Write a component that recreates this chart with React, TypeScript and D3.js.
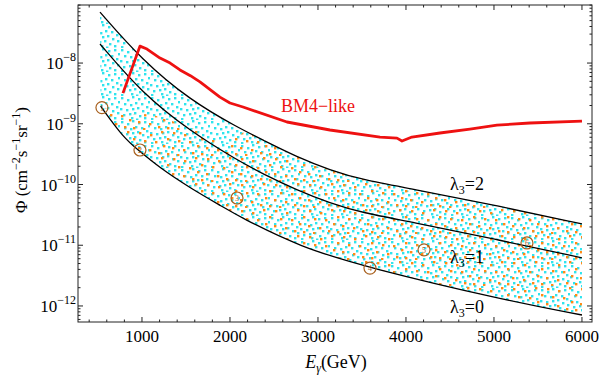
import * as d3 from 'd3';
import React from 'react';

const W = 602;
const H = 382;

// flux curves (E in GeV, Phi in cm^-2 s^-1 sr^-1)
const lam2E = [523, 1000, 1545, 2080, 2375, 2761, 3136, 3511, 4045, 5000, 6000];
const lam2Phi = [6.9e-8, 1.12e-8, 2.46e-9, 8.8e-10, 5.4e-10, 2.84e-10, 1.73e-10, 1.19e-10, 8.6e-11, 4.6e-11, 2.24e-11];

const lam1E = [523, 1000, 1545, 2080, 2375, 2761, 3136, 3511, 4045, 5000, 6000];
const lam1Phi = [2.06e-8, 3.2e-9, 7.6e-10, 2.53e-10, 1.49e-10, 8.1e-11, 4.95e-11, 3.4e-11, 2.45e-11, 1.27e-11, 6.2e-12];

const lam0E = [530, 784, 955, 1205, 1545, 1920, 2114, 2795, 3591, 5068, 6000];
const lam0Phi = [1.95e-9, 6.05e-10, 3.7e-10, 1.87e-10, 8.8e-11, 4.27e-11, 2.92e-11, 9.35e-12, 4.2e-12, 1.3e-12, 7.1e-13];

// upper edge of the orange points
const orangeE = [500, 750, 1091, 1545, 1943, 2227, 2568, 6200];
const orangePhi = [2.1e-9, 1.39e-9, 1.45e-9, 8.9e-10, 4.47e-10, 8.5e-10, 5.3e-9, 5e-9];

// BM4-like sensitivity
const bmE = [784, 977, 1057, 1205, 1320, 1432, 1550, 1659, 1886, 2000, 2148, 2648, 3136, 3705, 3898, 3955, 4068, 4386, 4727, 5034, 5409, 6000];
const bmPhi = [3.2e-9, 1.9e-8, 1.7e-8, 1.21e-8, 1.0e-8, 7.7e-9, 6.2e-9, 4.9e-9, 2.75e-9, 2.2e-9, 1.89e-9, 1.07e-9, 7.9e-10, 6.05e-10, 5.8e-10, 5.2e-10, 6.05e-10, 7.05e-10, 8.2e-10, 9.5e-10, 1.03e-9, 1.11e-9];

// benchmark points
const benchE = [545, 977, 2080, 3591, 4205, 5375];
const benchPhi = [1.85e-9, 3.7e-10, 6.0e-11, 4.2e-12, 8.4e-12, 1.09e-11];
const benchLabels = ['1', '2', '3', '4', '5', '6'];

const xTicks = [1000, 2000, 3000, 4000, 5000, 6000];
const yTickExp = [-12, -11, -10, -9, -8];

// texture tiles for the scan points
const cyanDots = [
  [1, 1], [7, 3], [12, 0], [18, 2], [24, 1], [28, 5],
  [4, 7], [10, 8], [15, 6], [21, 7], [26, 10],
  [0, 12], [6, 13], [12, 12], [17, 11], [22, 14],
  [3, 18], [9, 17], [14, 16], [19, 19], [27, 16],
  [1, 22], [11, 21], [24, 21], [16, 22.5],
];
const orangeDots = [
  [3, 2], [14, 4], [25, 1], [31, 8], [8, 10], [19, 11], [27, 15],
  [2, 17], [13, 19], [22, 22], [31, 23], [7, 24],
];

const serif = '"Liberation Serif", "Times New Roman", serif';

export default function App() {
  const x = d3.scaleLinear().domain([273, 6114]).range([78, 592]);
  const y = d3.scaleLog().domain([Math.pow(10, -12.264), Math.pow(10, -7.044)]).range([322, 5]);
  const [x0, x1] = x.range();
  const [y0, y1] = y.range();

  const zip = (a: number[], b: number[]) => a.map((e, i) => [e, b[i]] as [number, number]);
  const smooth = d3.line<[number, number]>().x(d => x(d[0])).y(d => y(d[1])).curve(d3.curveBasis);
  const straight = d3.line<[number, number]>().x(d => x(d[0])).y(d => y(d[1]));

  const p2 = zip(lam2E, lam2Phi);
  const p1 = zip(lam1E, lam1Phi);
  const p0 = zip(lam0E, lam0Phi);

  const bandPath = smooth(p2) + (smooth(p0.slice().reverse()) as string).replace(/^M/, 'L') + 'Z';
  const orangePath = straight(zip(orangeE, orangePhi)) + `L${x1},${y0}L${x0},${y0}Z`;

  const minorX = d3.range(400, 6001, 200).filter(v => v % 1000 !== 0);
  const minorY: number[] = [];
  for (let k = -13; k <= -8; k++) {
    for (let m = 2; m <= 9; m++) {
      const v = m * Math.pow(10, k);
      if (y(v) < y0 && y(v) > y1) minorY.push(v);
    }
  }

  const frame = '#222';

  return (
    <svg width={W} height={H} style={{ position: 'absolute', left: 0, top: 0, background: '#fff', fontFamily: serif }}>
      <defs>
        <pattern id="cyanPat" patternUnits="userSpaceOnUse" width={30} height={24}>
          {cyanDots.map((d, i) => (
            <rect key={i} x={d[0]} y={d[1]} width={2.4} height={2.4} fill="#2ee4ee" />
          ))}
        </pattern>
        <pattern id="orangePat" patternUnits="userSpaceOnUse" width={34} height={26}>
          {orangeDots.map((d, i) => (
            <rect key={i} x={d[0]} y={d[1]} width={2.4} height={2.4} fill="#ff8a14" />
          ))}
        </pattern>
        <clipPath id="bandClip">
          <path d={bandPath} />
        </clipPath>
        <clipPath id="orangeClip">
          <path d={orangePath} />
        </clipPath>
      </defs>

      {/* scattered points */}
      <g clipPath="url(#bandClip)">
        <rect x={x0} y={y1} width={x1 - x0} height={y0 - y1} fill="url(#cyanPat)" />
        <rect x={x0} y={y1} width={x1 - x0} height={y0 - y1} fill="url(#orangePat)" clipPath="url(#orangeClip)" />
      </g>

      {/* lambda curves */}
      {[p2, p1, p0].map((p, i) => (
        <path key={i} d={smooth(p) as string} fill="none" stroke="#000" strokeWidth={1.3} />
      ))}

      {/* BM4-like */}
      <path d={straight(zip(bmE, bmPhi)) as string} fill="none" stroke="#ee1111" strokeWidth={2.8} strokeLinejoin="round" />
      <text x={x(3000)} y={y(1.56e-9)} textAnchor="middle" fontSize={18} fill="#ee1111">BM4−like</text>

      {/* benchmark circles */}
      {benchE.map((e, i) => (
        <g key={i} transform={`translate(${x(e)},${y(benchPhi[i])})`}>
          <circle r={6} fill="none" stroke="#a8601e" strokeWidth={1.2} />
          <text y={3} textAnchor="middle" fontSize={8} fill="#a8601e">{benchLabels[i]}</text>
        </g>
      ))}

      {/* curve labels */}
      {[['2', 8.1e-11], ['1', 5.1e-12], ['0', 7.7e-13]].map(([n, v]) => (
        <text key={n as string} x={x(4693)} y={y(v as number)} textAnchor="middle" fontSize={18}>
          λ<tspan fontSize={12} dy={4}>3</tspan><tspan dy={-4}>={n}</tspan>
        </text>
      ))}

      {/* frame */}
      <rect x={x0} y={y1} width={x1 - x0} height={y0 - y1} fill="none" stroke={frame} strokeWidth={1} />

      {/* x ticks */}
      {xTicks.map(v => (
        <g key={v}>
          <line x1={x(v)} x2={x(v)} y1={y0} y2={y0 - 5} stroke={frame} />
          <line x1={x(v)} x2={x(v)} y1={y1} y2={y1 + 5} stroke={frame} />
          <text x={x(v)} y={y0 + 20} textAnchor="middle" fontSize={17}>{v}</text>
        </g>
      ))}
      {minorX.map(v => (
        <g key={v}>
          <line x1={x(v)} x2={x(v)} y1={y0} y2={y0 - 2.5} stroke={frame} />
          <line x1={x(v)} x2={x(v)} y1={y1} y2={y1 + 2.5} stroke={frame} />
        </g>
      ))}

      {/* y ticks */}
      {yTickExp.map(k => {
        const v = Math.pow(10, k);
        return (
          <g key={k}>
            <line x1={x0} x2={x0 + 5} y1={y(v)} y2={y(v)} stroke={frame} />
            <line x1={x1} x2={x1 - 5} y1={y(v)} y2={y(v)} stroke={frame} />
            <text x={x0 - 2} y={y(v) + 6} textAnchor="end" fontSize={17}>
              10<tspan fontSize={12} dy={-8}>{'−' + Math.abs(k)}</tspan>
            </text>
          </g>
        );
      })}
      {minorY.map((v, i) => (
        <g key={i}>
          <line x1={x0} x2={x0 + 2.5} y1={y(v)} y2={y(v)} stroke={frame} />
          <line x1={x1} x2={x1 - 2.5} y1={y(v)} y2={y(v)} stroke={frame} />
        </g>
      ))}

      {/* axis titles */}
      <text x={336} y={368} textAnchor="middle" fontSize={18}>
        <tspan fontStyle="italic">E</tspan>
        <tspan fontStyle="italic" fontSize={12} dy={4}>γ</tspan>
        <tspan dy={-4}>(GeV)</tspan>
      </text>
      <text transform="translate(27,160) rotate(-90)" textAnchor="middle" fontSize={17}>
        Φ (cm<tspan fontSize={12} dy={-7}>−2</tspan>
        <tspan dy={7}>s</tspan><tspan fontSize={12} dy={-7}>−1</tspan>
        <tspan dy={7}>sr</tspan><tspan fontSize={12} dy={-7}>−1</tspan>
        <tspan dy={7}>)</tspan>
      </text>
    </svg>
  );
}
